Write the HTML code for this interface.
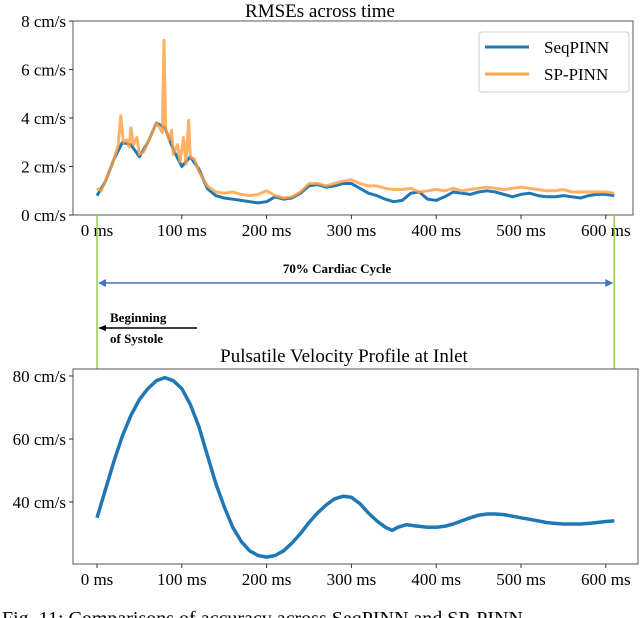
<!DOCTYPE html>
<html><head><meta charset="utf-8">
<style>
html,body{margin:0;padding:0;background:#fff;}
svg{display:block;font-family:"Liberation Serif",serif;}
</style></head>
<body>
<svg id="fig" width="640" height="618" viewBox="0 0 640 618" xmlns="http://www.w3.org/2000/svg">
  <text x="320" y="17" font-size="19" text-anchor="middle">RMSEs across time</text>
  <rect x="73" y="21" width="560" height="194" fill="none" stroke="#555" stroke-width="1"/>
  <g id="topTicks"></g>
  <g id="topSeries"></g>
  <g>
    <rect x="479" y="32" width="150" height="60" fill="#fff" stroke="#ccc" rx="3"/>
    <line x1="485" y1="47" x2="529" y2="47" stroke="#1f77b4" stroke-width="3"/>
    <text x="544" y="53" font-size="17">SeqPINN</text>
    <line x1="485" y1="74" x2="529" y2="74" stroke="#ffa64d" stroke-width="3"/>
    <text x="544" y="80" font-size="17">SP-PINN</text>
  </g>
  <g id="annot"></g>
  <text x="337" y="273" font-size="13" font-weight="bold" text-anchor="middle">70% Cardiac Cycle</text>
  <text x="110" y="322" font-size="13" font-weight="bold">Beginning</text>
  <text x="110" y="343" font-size="13" font-weight="bold">of Systole</text>
  <text x="344" y="362" font-size="19" text-anchor="middle">Pulsatile Velocity Profile at Inlet</text>
  <rect x="73" y="369" width="565" height="195" fill="none" stroke="#555" stroke-width="1"/>
  <g id="botTicks"></g>
  <g id="botSeries"></g>
  <text x="2" y="625" font-size="20">Fig. 11:  Comparisons of accuracy across SeqPINN and SP-PINN</text>
</svg>
<script>
const xTicks=[0,100,200,300,400,500,600];
const topYTicks=[0,2,4,6,8];
const botYTicks=[40,60,80];
const seqT=[0,10,20,30,40,50,60,70,80,90,100,110,120,130,140,150,160,170,180,190,200,210,220,230,240,250,260,270,280,290,300,310,320,330,340,350,360,370,380,390,400,410,420,430,440,450,460,470,480,490,500,510,520,530,540,550,560,570,580,590,600,610];
const seqV=[0.8,1.4,2.3,3.0,2.9,2.4,3.0,3.8,3.6,2.7,2.0,2.4,1.9,1.1,0.8,0.7,0.65,0.6,0.55,0.5,0.55,0.75,0.65,0.7,0.9,1.2,1.25,1.15,1.2,1.3,1.3,1.1,0.9,0.8,0.65,0.55,0.6,0.9,0.95,0.65,0.6,0.75,0.95,0.9,0.85,0.95,1.0,0.95,0.85,0.75,0.85,0.9,0.8,0.75,0.75,0.8,0.75,0.7,0.8,0.85,0.85,0.8];
const spT=[0,5,10,20,25,28,31,35,38,40,43,47,50,55,60,65,70,74,77,79,81,85,88,90,95,98,102,105,108,110,115,120,130,140,150,160,170,180,190,200,210,220,230,240,250,260,270,280,290,300,310,320,330,340,350,360,370,380,390,400,410,420,430,440,450,460,470,480,490,500,510,520,530,540,550,560,570,580,590,600,610];
const spV=[1.1,1.0,1.4,2.3,2.9,4.1,3.0,3.1,2.8,3.6,2.9,3.2,2.5,2.6,3.0,3.4,3.8,3.6,3.4,7.2,3.5,3.1,3.5,2.5,2.9,2.2,3.2,2.1,3.9,2.4,2.3,1.8,1.2,0.95,0.9,0.95,0.85,0.8,0.85,1.0,0.8,0.7,0.75,0.95,1.3,1.3,1.2,1.3,1.4,1.45,1.3,1.2,1.2,1.1,1.05,1.05,1.1,0.95,1.0,1.05,1.0,1.1,1.0,1.05,1.1,1.15,1.1,1.05,1.1,1.15,1.1,1.05,1.0,1.0,1.05,0.95,0.95,0.95,0.95,0.95,0.9];
const velT=[0,10,20,30,40,50,60,70,80,90,100,110,120,130,140,150,160,170,180,190,200,210,220,230,240,250,260,270,280,290,300,310,320,330,340,348,355,365,375,390,400,410,420,430,440,450,460,470,480,490,500,510,520,530,540,550,560,570,580,590,600,610];
const velV=[35,44,53,61,67.5,72.5,76,78.5,79.5,78.5,76,71,64,55,46,38.5,32,27.5,24.5,23,22.5,23,24.5,27,30,33.5,36.5,39,41,41.8,41.5,39.5,36.5,34,32,31,32,32.8,32.4,32,32,32.3,33,34,35,35.8,36.2,36.2,36,35.5,35,34.5,34,33.5,33.2,33,33,33,33.2,33.5,33.8,34];

const NS='http://www.w3.org/2000/svg';
const xS=t=>97+t*0.848;
const yTop=v=>215-v*24.25;
const yBot=v=>502-(v-40)*3.15;
function mk(tag,attrs,parent,text){const e=document.createElementNS(NS,tag);for(const k in attrs)e.setAttribute(k,attrs[k]);if(text!==undefined)e.textContent=text;parent.appendChild(e);return e;}

const tt=document.getElementById('topTicks'), bt=document.getElementById('botTicks');
xTicks.forEach(t=>{
  let l=mk('line',{x1:xS(t),y1:215,x2:xS(t),y2:219,stroke:'#333'},tt);
  
  
  let s=mk('text',{x:xS(t),y:236,'font-size':17,'text-anchor':'middle'},tt,t+' ms');
  
  
  let l2=mk('line',{x1:xS(t),y1:564,x2:xS(t),y2:568,stroke:'#333'},bt);
  
  
  let s2=mk('text',{x:xS(t),y:585,'font-size':17,'text-anchor':'middle'},bt,t+' ms');
  
  
});
topYTicks.forEach(v=>{
  let l=mk('line',{x1:69,y1:yTop(v),x2:73,y2:yTop(v),stroke:'#333'},tt);
  
  
  let s=mk('text',{x:66,y:yTop(v)+6,'font-size':17,'text-anchor':'end'},tt,v+' cm/s');
  
  
});
botYTicks.forEach(v=>{
  let l=mk('line',{x1:69,y1:yBot(v),x2:73,y2:yBot(v),stroke:'#333'},bt);
  
  
  let s=mk('text',{x:66,y:yBot(v)+6,'font-size':17,'text-anchor':'end'},bt,v+' cm/s');
  
  
});
function pts(T,V,yf){return T.map((t,i)=>xS(t).toFixed(1)+','+yf(V[i]).toFixed(1)).join(' ');}
const ts=document.getElementById('topSeries');
let p1=mk('polyline',{points:pts(seqT,seqV,yTop),fill:'none',stroke:'#1f77b4','stroke-width':3,'stroke-linejoin':'round'},ts);


let p2=mk('polyline',{points:pts(spT,spV,yTop),fill:'none',stroke:'#ff9f3f','stroke-width':3,'stroke-opacity':0.8,'stroke-linejoin':'round'},ts);


const bs=document.getElementById('botSeries');
let p3=mk('polyline',{points:pts(velT,velV,yBot),fill:'none',stroke:'#1f77b4','stroke-width':3.5,'stroke-linejoin':'round'},bs);



const an=document.getElementById('annot');
[0,610].forEach(t=>{
  let g=mk('line',{x1:xS(t),y1:215,x2:xS(t),y2:369,stroke:'#92d050','stroke-width':1.5},an);
  
  
});
let ar=mk('line',{x1:xS(0)+3,y1:283,x2:xS(610)-3,y2:283,stroke:'#4472c4','stroke-width':1.5},an);


mk('polygon',{points:`${xS(0)+1},283 ${xS(0)+9},279 ${xS(0)+9},287`,fill:'#4472c4'},an);
mk('polygon',{points:`${xS(610)-1},283 ${xS(610)-9},279 ${xS(610)-9},287`,fill:'#4472c4'},an);
let sa=mk('line',{x1:xS(0)+6,y1:328,x2:197,y2:328,stroke:'#000','stroke-width':1.5},an);


mk('polygon',{points:`${xS(0)+1},328 ${xS(0)+9},325 ${xS(0)+9},331`,fill:'#000'},an);
</script>
</body></html>
